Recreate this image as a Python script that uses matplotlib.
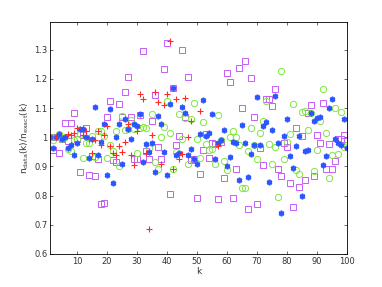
import numpy as np
import matplotlib
matplotlib.use("Agg")
from matplotlib import pyplot as plt

k = np.arange(1, 101)

# red plus, only first part of k
k_red = np.array([1, 3, 7, 8, 9, 10, 12, 13, 14, 15, 16, 17, 18, 19, 20, 21, 22, 23, 24, 25,
                  26, 27, 28, 29, 30, 31, 32, 33, 34, 35, 36, 37, 38, 39, 40, 41, 42, 43, 44,
                  45, 46, 47, 48, 51, 57])
red = [1.0, 1.0, 1.01, 1.007, 1.015, 1.033, 1.007, 1.02, 0.995, 0.945, 0.99, 1.02, 0.975,
       1.007, 1.04, 0.97, 0.945, 0.94, 0.97, 0.95, 0.985, 1.045, 0.94, 0.905, 1.02, 1.148,
       1.133, 0.945, 0.687, 1.007, 1.155, 1.12, 0.908, 1.11, 1.148, 1.33, 0.89, 1.13, 0.926,
       0.943, 1.135, 1.0, 1.057, 1.09, 0.97]

blue = [1.0, 0.962, 1.0, 1.012, 0.995, 1.0, 0.962, 0.973, 0.939, 0.982,
        1.03, 1.027, 1.0, 0.928, 0.993, 1.105, 0.94, 0.985, 1.045, 0.87,
        1.098, 0.845, 1.0, 1.047, 0.91, 1.063, 1.028, 0.993, 1.045, 1.04,
        1.08, 0.915, 0.977, 0.95, 0.98, 0.88, 1.073, 1.047, 0.948, 0.872,
        1.113, 1.17, 0.94, 0.947, 1.105, 1.083, 0.94, 0.96, 0.924, 0.91,
        1.012, 1.128, 1.005, 1.015, 1.08, 0.926, 0.982, 0.99, 1.025, 0.9,
        0.933, 0.985, 0.98, 0.855, 1.042, 0.982, 0.865, 0.943, 0.973, 1.138,
        0.973, 1.04, 1.052, 0.848, 1.024, 1.143, 0.979, 0.742, 1.003, 1.062,
        0.935, 0.895, 0.97, 1.005, 0.8, 0.952, 0.958, 1.085, 1.056, 1.065,
        1.07, 0.905, 0.935, 1.099, 1.13, 0.995, 0.982, 0.974, 1.063, 0.963]

green = [1.0, 0.99, 1.0, 1.01, 0.995, 1.0, 0.96, 0.953, 0.99, 0.993,
         1.01, 0.928, 0.982, 0.982, 1.005, 0.933, 1.02, 1.02, 1.005, 0.929,
         0.974, 0.953, 1.02, 0.903, 1.072, 1.024, 1.028, 1.06, 1.028, 0.945,
         1.033, 1.035, 1.032, 0.962, 1.08, 0.917, 0.89, 1.0, 1.035, 1.123,
         1.014, 0.89, 0.95, 1.08, 0.993, 1.067, 0.908, 1.064, 1.117, 0.993,
         0.93, 1.053, 0.978, 0.955, 0.96, 0.908, 1.075, 0.99, 0.92, 0.887,
         1.0, 1.022, 1.0, 0.972, 0.825, 0.825, 0.952, 1.032, 0.973, 0.924,
         1.014, 1.057, 1.123, 0.976, 0.908, 0.966, 0.796, 1.229, 0.924, 0.984,
         1.012, 1.114, 0.889, 0.874, 1.088, 1.091, 1.026, 1.082, 0.884, 0.955,
         1.055, 1.166, 1.014, 0.86, 0.941, 1.102, 0.942, 1.087, 0.966, 0.974]

magenta = [1.0, 0.956, 1.0, 0.945, 0.995, 1.05, 0.987, 1.05, 1.082, 0.995,
           0.88, 1.007, 1.033, 0.87, 0.935, 0.866, 0.925, 0.773, 0.775, 1.068,
           1.126, 0.922, 0.916, 1.113, 1.069, 1.157, 1.207, 1.07, 0.926, 0.925,
           1.075, 1.297, 0.953, 0.925, 1.057, 1.144, 0.966, 0.925, 1.235, 1.325,
           0.806, 1.169, 0.974, 1.006, 1.3, 1.068, 1.207, 0.922, 0.924, 0.793,
           0.875, 0.955, 1.01, 0.929, 0.98, 0.978, 0.79, 0.985, 0.861, 1.222,
           1.19, 0.793, 0.89, 1.236, 1.1, 1.26, 0.755, 1.205, 1.069, 0.772,
           0.964, 0.905, 1.133, 1.133, 1.107, 1.166, 0.89, 0.867, 0.98, 0.966,
           0.844, 0.761, 1.033, 0.829, 1.006, 0.855, 1.084, 1.11, 0.869, 1.008,
           0.98, 1.117, 0.892, 0.978, 0.892, 0.918, 0.993, 0.993, 1.008, 0.973]

fig = plt.figure(figsize=(3.82, 2.87), dpi=100)
ax = fig.add_axes([0.131, 0.115, 0.777, 0.808])

ax.plot(k, magenta, 's', mfc='none', mec='#c75cf5', ms=4, mew=0.7)
ax.plot(k, green, 'o', mfc='none', mec='#7fe83a', ms=4.5, mew=0.7)
ax.plot(k, blue, marker=(6, 2, 0), ls='none', color='#2a55ff', ms=4, mew=1.2)
ax.plot(k_red, red, '+', color='#ff2a2a', ms=5, mew=0.8)

ax.set_xlim(1, 100)
ax.set_ylim(0.6, 1.395)
ax.set_xticks(np.arange(10, 101, 10))
ax.set_yticks([0.6, 0.7, 0.8, 0.9, 1.0, 1.1, 1.2, 1.3])
ax.set_yticklabels(['0.6', '0.7', '0.8', '0.9', '1', '1.1', '1.2', '1.3'])
ax.tick_params(direction='in', top=True, right=True, labelsize=6, length=2.5,
               width=0.5, colors='#333333', pad=2)
for s in ax.spines.values():
    s.set_linewidth(0.6)
ax.set_xlabel('k', fontsize=6.5, labelpad=1, color='#333333')
ax.set_ylabel(r'n$_{\rm data}$(k)/n$_{\rm exact}$(k)', fontsize=6.5, labelpad=2, color='#333333')

fig.savefig('out.png', dpi=100)
